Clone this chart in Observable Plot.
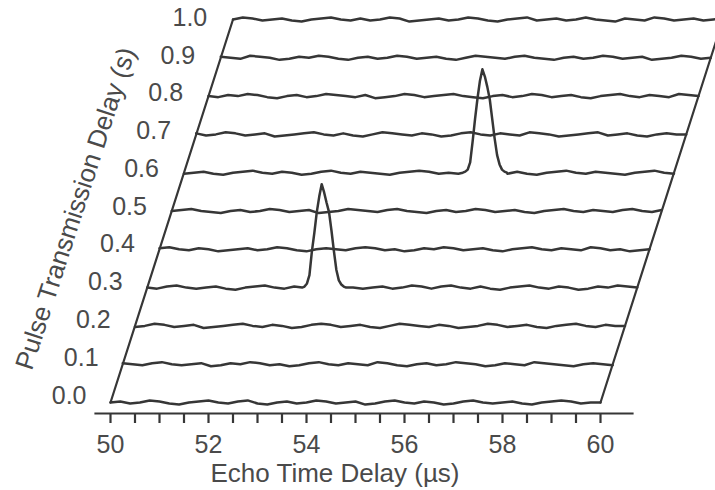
<!DOCTYPE html>
<html><head><meta charset="utf-8">
<script src="https://cdn.jsdelivr.net/npm/d3@7"></script>
<script src="https://cdn.jsdelivr.net/npm/@observablehq/plot@0.6"></script>
<style>html,body{margin:0;padding:0;background:#fff;overflow:hidden}</style>
</head><body><div id="chart"></div>
<script>
// Pulse transmission delays (s), one trace each
const pulseDelays = [0.0, 0.1, 0.2, 0.3, 0.4, 0.5, 0.6, 0.7, 0.8, 0.9, 1.0];
const yTickLabels = ["0.0","0.1","0.2","0.3","0.4","0.5","0.6","0.7","0.8","0.9","1.0"];

// Echo time sampling (µs)
const echoTimes = [50.0,50.2,50.4,50.6,50.8,51.0,51.2,51.4,51.6,51.8,
  52.0,52.2,52.4,52.6,52.8,53.0,53.2,53.4,53.6,53.8,
  54.0,54.2,54.4,54.6,54.8,55.0,55.2,55.4,55.6,55.8,
  56.0,56.2,56.4,56.6,56.8,57.0,57.2,57.4,57.6,57.8,
  58.0,58.2,58.4,58.6,58.8,59.0,59.2,59.4,59.6,59.8,
  60.0];

// Echo signal (a.u., peak = 100) for each trace
const signal00 = [0,1,-1,0,2,1,-1,-2,0,1, 2,0,-1,1,2,-1,-2,0,1,-1, 0,2,1,-1,0,1,-2,-1,1,2, 0,-1,1,0,-2,-1,1,2,0,-1, 0,1,-1,-2,0,1,2,1,-1,0, 0];
const signal01 = [1,0,-1,1,2,0,-1,0,1,-2, -1,1,0,2,1,-1,0,-2,-1,1, 2,0,-1,1,0,-1,2,1,-1,-2, 0,1,-1,0,2,1,0,-2,-1,1, 0,-1,2,1,0,-1,-2,0,1,0, -1];
const signal02 = [-1,0,2,1,-1,0,1,-2,-1,0, 1,2,0,-1,1,0,-2,-1,1,2, 1,-1,0,1,-1,-2,0,2,1,0, -1,1,0,-2,-1,0,2,1,-1,0, 1,-1,-2,0,1,2,0,-1,1,0, 0];
const signal03 = [0,-1,1,2,0,-1,0,1,-1,-2, 0,1,2,0,-1,1,0,-1,-2,0, 1,0,-1,0,1,-1,0,2,1,-1, 1,2,0,-1,1,-1,-2,0,1,2, 0,-1,1,0,-2,-1,1,0,2,1, 0];
const signal04 = [1,2,0,-1,1,0,-2,-1,0,1, -1,0,2,1,-1,-2,0,1,0,-1, 1,2,1,-1,0,-2,-1,1,0,2, 1,-1,0,1,-1,-2,0,1,2,0, -1,1,0,-1,2,1,-1,0,-2,-1, 0];
const signal05 = [0,1,2,0,-1,-2,0,1,-1,0, 2,1,-1,0,1,-2,-1,0,2,1, 0,-1,1,2,0,-1,-2,0,1,-1, 0,2,1,-1,0,1,-1,-2,0,1, 2,0,-1,1,0,-1,1,2,0,-1, 1];
const signal06 = [-1,0,1,-1,-2,0,1,2,0,-1, 1,0,-2,-1,1,2,0,-1,1,0, -1,-2,0,1,2,1,-1,0,-1,1, 0,1,0,-1,1,-1,-2,0,1,2, 0,-1,1,0,-1,-2,0,1,2,0, -1];
const signal07 = [1,-1,0,2,1,-1,0,1,-2,-1, 0,1,2,0,-1,1,-1,-2,0,2, 1,0,-1,1,0,-2,-1,1,2,0, -1,1,0,-1,2,1,0,-2,-1,0, 1,2,-1,0,1,-1,-2,0,1,0, 0];
const signal08 = [0,-1,1,0,2,1,-1,-2,0,1, -1,0,2,1,0,-1,1,-2,-1,0, 2,1,-1,0,1,2,0,-1,-2,0, 1,-1,0,2,1,-1,0,1,-1,-2, 0,1,2,0,-1,1,0,-1,2,1, 0];
const signal09 = [1,0,-1,2,1,0,-2,-1,1,0, 2,1,-1,-2,0,1,-1,0,2,1, -1,0,1,-1,-2,0,2,1,0,-1, 1,2,0,-1,-2,0,1,-1,0,2, 1,-1,0,1,-2,-1,0,2,1,-1, 0];
const signal10 = [0,2,1,-1,0,1,-1,-2,0,1, 2,0,-1,1,-1,0,2,1,-2,-1, 0,1,-1,0,2,1,-1,-2,0,1, 2,-1,0,1,-1,0,2,0,-1,-2, 1,0,-1,2,1,-1,0,1,-1,0, 1];

// Echo peaks, finely sampled (µs, a.u.)
const peak03Times  = [53.16,53.21,53.26,53.31,53.36,53.41,53.46,53.51,53.56,53.61,53.66,53.71,53.76,53.81,53.86,53.91,53.96,54.01,54.06];
const peak03Values = [0,1,4,12,35,53,73,88,100,92,82,73,55,35,17,7,3,1,0];
const peak06Times  = [55.69,55.74,55.79,55.84,55.89,55.94,55.99,56.04,56.09,56.14,56.19,56.24,56.29,56.34,56.39,56.44,56.49,56.54,56.59];
const peak06Values = [0,1,3,10,30,52,72,89,100,93,83,71,52,33,17,8,3,1,0];

const xTicks = [50,50.5,51,51.5,52,52.5,53,53.5,54,54.5,55,55.5,56,56.5,57,57.5,58,58.5,59,59.5,60];
const xTickLabels = [50,52,54,56,58,60];
const xTitle = "Echo Time Delay (µs)";
const yTitle = "Pulse Transmission Delay (s)";

const signals = [signal00,signal01,signal02,signal03,signal04,signal05,signal06,signal07,signal08,signal09,signal10];
const peaks = [null,null,null,[peak03Times,peak03Values],null,null,[peak06Times,peak06Values],null,null,null,null];

const skew = 2.5;          // horizontal shift of each trace, µs per s of pulse delay
const ampScale = 0.0027;   // s of vertical offset per signal unit
const labelStep = 0.986;   // tick labels are spaced a little tighter than the traces
const lineColor = "#363636";
const textColor = "#4a4a4a";

const rows = [];
pulseDelays.forEach((d, i) => {
  let pts = echoTimes.map((t, j) => ({t, v: signals[i][j]}));
  const pk = peaks[i];
  if (pk) {
    const [pt, pv] = pk;
    const lo = pt[0], hi = pt[pt.length - 1];
    pts = pts.filter(p => p.t < lo || p.t > hi).concat(pt.map((t, k) => ({t, v: pv[k]})));
    pts.sort((a, b) => a.t - b.t);
  }
  pts.forEach(p => rows.push({delay: d, x: p.t + d * skew, y: d + p.v * ampScale}));
});

const t0 = echoTimes[0], t1 = echoTimes[echoTimes.length - 1];
const dMax = pulseDelays[pulseDelays.length - 1];
const edges = [
  {side: "L", x: t0, y: 0}, {side: "L", x: t0 + dMax * skew, y: dMax},
  {side: "R", x: t1, y: 0}, {side: "R", x: t1 + dMax * skew, y: dMax}
];
const yLabelRows = pulseDelays.map((d, i) => ({x: t0 + d * labelStep * skew, y: d * labelStep, text: yTickLabels[i]}));

const chart = Plot.plot({
  width: 715, height: 490,
  marginLeft: 95, marginRight: 83, marginTop: 19, marginBottom: 77,
  x: {domain: [50, 60], range: [110, 600]},
  y: {domain: [0, 1], range: [402, 19], axis: null},
  style: {fontFamily: "'Liberation Sans', Arial, sans-serif", color: textColor, background: "#fff"},
  marks: [
    Plot.frame({anchor: "bottom", stroke: lineColor, strokeWidth: 2.2}),
    Plot.axisX({ticks: xTicks, tickSize: 10, tickPadding: 12, strokeWidth: 2.2, stroke: lineColor,
      tickFormat: d => xTickLabels.includes(d) ? String(d) : "", fontSize: 25, label: null}),
    Plot.line(rows, {x: "x", y: "y", z: "delay", stroke: lineColor, strokeWidth: 2.5, strokeLinejoin: "round"}),
    Plot.line(edges, {x: "x", y: "y", z: "side", stroke: lineColor, strokeWidth: 2.2}),
    Plot.text(yLabelRows, {x: "x", y: "y", text: "text", textAnchor: "end", lineAnchor: "bottom", dx: -24, dy: 1, fontSize: 25, fill: textColor}),
    Plot.text([yTitle], {x: t0 + 0.5 * skew, y: 0.5, text: d => d, rotate: -72, dx: -96, dy: -2.5, fontSize: 26, fill: textColor}),
    Plot.text([xTitle], {frameAnchor: "bottom", text: d => d, dx: -29, dy: 68, lineAnchor: "bottom", fontSize: 26, fill: textColor})
  ]
});
document.getElementById("chart").appendChild(chart);
</script>
</body></html>
